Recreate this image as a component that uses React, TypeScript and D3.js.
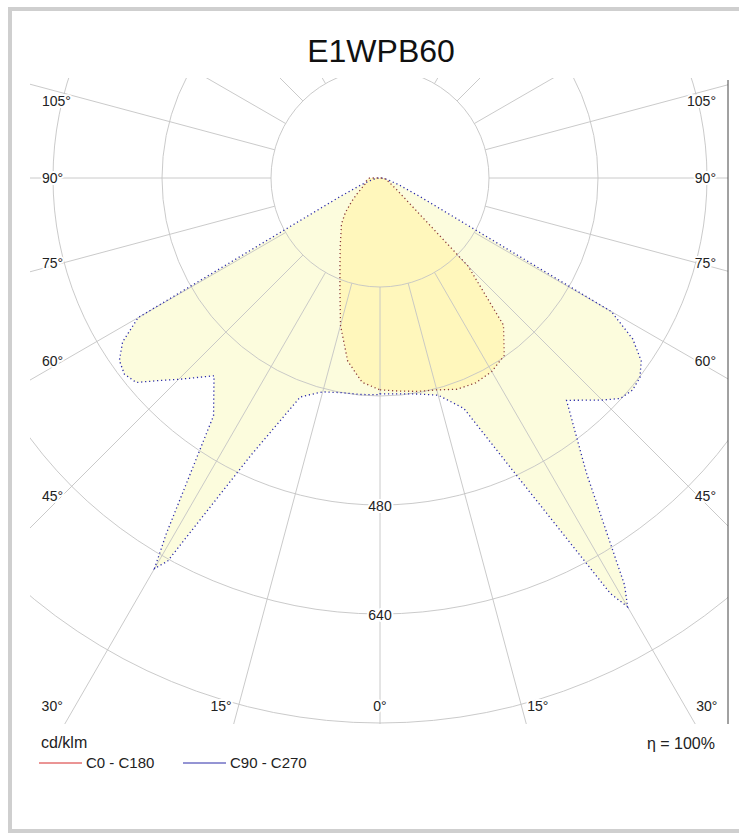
import React, { useEffect, useRef } from 'react';
import * as d3 from 'd3';

const TITLE = 'E1WPB60';
// polar angles from nadir (degrees)
const GAMMA_A = [0, 5, 10, 15, 20, 25, 30, 35, 40, 45, 50, 55, 60, 65, 70, 75, 80, 85, 90];
const GAMMA_B = [0, 5, 10, 15, 20, 25, 29, 30, 31, 35, 40, 45, 47.5, 50, 52.5, 55, 57.5, 60, 65, 70, 75, 80, 85, 90];
// C0 - C180 plane (right = C0, left = C180), cd/klm, at GAMMA_A
const C0 = [311, 314, 318, 322, 330, 332, 328, 318, 282, 183, 51, 30, 20, 15, 12, 10, 8, 6, 5];
const C180 = [311, 301, 273, 224, 172, 139, 117, 100, 88, 72, 55, 42, 32, 26, 22, 21, 20, 18, 15];
// C90 - C270 plane (right = C90, left = C270), cd/klm, at GAMMA_B
const C90 = [317, 318, 322, 330, 360, 492, 697, 727, 697, 528, 426, 461, 479, 484, 481, 468, 440, 392, 65, 30, 15, 8, 4, 0];
const C270 = [318, 319, 320, 325, 342, 450, 643, 662, 609, 426, 379, 418, 440, 467, 473, 467, 448, 410, 65, 30, 15, 8, 4, 0];

const RINGS = [160, 320, 480, 640, 800, 960];
const RING_LABELS = [480, 640];
const SPOKES = [0, 15, 30, 45, 60, 75, 90, 105, 120, 135, 150, 165, 180];
const SIDE_LABELS = [45, 60, 75, 90, 105];
const BOTTOM_LABELS = [0, 15, 30];
const UNIT = 'cd/klm';
const EFFICIENCY = 'η = 100%';
const LEGEND = ['C0 - C180', 'C90 - C270'];
const LEGEND_COLORS = ['#d62a2a', '#2a2aa8'];

export default function App() {
  const ref = useRef<SVGSVGElement>(null);

  useEffect(() => {
    const svg = d3.select(ref.current);
    svg.selectAll('*').remove();
    const W = 739, H = 835;
    const cx = 380, cy = 178;
    const clip = { x: 30, y: 78, w: 698, h: 646 };
    const r = d3.scaleLinear().domain([0, 800]).range([0, 545]);
    const rad = (d: number) => (d * Math.PI) / 180;
    const font = "'Liberation Sans', Arial, Helvetica, sans-serif";

    svg.append('rect').attr('x', 0).attr('y', 0).attr('width', W).attr('height', H).attr('fill', '#fff');
    // card border
    svg.append('rect').attr('x', 10).attr('y', 9).attr('width', 760).attr('height', 822)
      .attr('fill', 'none').attr('stroke', '#cfcfcf').attr('stroke-width', 4);

    const defs = svg.append('defs');
    defs.append('clipPath').attr('id', 'plotclip').append('rect')
      .attr('x', clip.x).attr('y', clip.y).attr('width', clip.w).attr('height', clip.h);

    svg.append('text').attr('x', 381).attr('y', 62).attr('text-anchor', 'middle')
      .attr('font-family', font).attr('font-size', 32).attr('fill', '#111').text(TITLE);

    const plot = svg.append('g').attr('clip-path', 'url(#plotclip)');
    const g = plot.append('g').attr('transform', `translate(${cx},${cy})`);

    const curve = (gammas: number[], right: number[], left: number[]) => {
      const pts: [number, number][] = [];
      gammas.forEach((gm, i) => pts.push([Math.PI - rad(gm), r(right[i])]));
      for (let i = gammas.length - 1; i >= 0; i--) pts.push([Math.PI + rad(gammas[i]), r(left[i])]);
      return d3.lineRadial<[number, number]>().angle(d => d[0]).radius(d => d[1]).curve(d3.curveLinearClosed)(pts) as string;
    };
    const batwing = curve(GAMMA_B, C90, C270);
    const inner = curve(GAMMA_A, C0, C180);

    // fills
    g.append('path').attr('d', batwing).attr('fill', '#fcfcdd');
    g.append('path').attr('d', inner).attr('fill', '#fff7bc');

    // grid
    const grid = g.append('g').attr('fill', 'none').attr('stroke', '#c4c4c4').attr('stroke-width', 0.9);
    RINGS.forEach(v => grid.append('circle').attr('r', r(v)));
    SPOKES.forEach(a => {
      const sides = a === 0 || a === 180 ? [1] : [-1, 1];
      sides.forEach(s => {
        const r0 = r(RINGS[0]), r1 = r(1300);
        grid.append('line')
          .attr('x1', s * Math.sin(rad(a)) * r0).attr('y1', Math.cos(rad(a)) * r0)
          .attr('x2', s * Math.sin(rad(a)) * r1).attr('y2', Math.cos(rad(a)) * r1);
      });
    });

    // outlines
    g.append('path').attr('d', batwing).attr('fill', 'none')
      .attr('stroke', LEGEND_COLORS[1]).attr('stroke-width', 1.3).attr('stroke-dasharray', '1.2 2.8');
    g.append('path').attr('d', inner).attr('fill', 'none')
      .attr('stroke', '#8a3a3a').attr('stroke-width', 1.3).attr('stroke-dasharray', '1.2 2.8');

    // right plot edge
    svg.append('line').attr('x1', clip.x + clip.w).attr('x2', clip.x + clip.w)
      .attr('y1', clip.y + 2).attr('y2', clip.y + clip.h).attr('stroke', '#444').attr('stroke-width', 1);

    const label = (x: number, y: number, t: string, anchor: string, size = 14) =>
      svg.append('text').attr('x', x).attr('y', y).attr('dy', '0.35em').attr('text-anchor', anchor)
        .attr('font-family', font).attr('font-size', size).attr('fill', '#222')
        .attr('stroke', '#fff').attr('stroke-width', 4).attr('paint-order', 'stroke').attr('stroke-linejoin', 'round')
        .text(t);

    // ring labels
    RING_LABELS.forEach(v => label(cx, cy + r(v) + 1, String(v), 'middle'));

    // side angle labels
    SIDE_LABELS.forEach(a => {
      let y = cy + 318 / Math.tan(rad(a));
      if (a === 90) y = cy;
      y = Math.max(y, 101);
      label(42, y, `${a}°`, 'start');
      label(716, y, `${a}°`, 'end');
    });
    // bottom angle labels
    const bottomY = clip.y + clip.h;
    BOTTOM_LABELS.forEach(a => {
      if (a === 0) { label(cx, 706, `${a}°`, 'middle'); return; }
      const dx = (bottomY - cy) * Math.tan(rad(a));
      label(cx - dx - 2, 706, `${a}°`, 'end');
      label(cx + dx + 1, 706, `${a}°`, 'start');
    });

    // unit + efficiency
    svg.append('text').attr('x', 41).attr('y', 748).attr('font-family', font).attr('font-size', 16)
      .attr('fill', '#222').text(UNIT);
    svg.append('text').attr('x', 715).attr('y', 749).attr('text-anchor', 'end').attr('font-family', font)
      .attr('font-size', 16).attr('fill', '#222').attr('xml:space', 'preserve').text(EFFICIENCY);

    // legend
    const lx = [39, 183];
    LEGEND.forEach((name, i) => {
      svg.append('line').attr('x1', lx[i]).attr('x2', lx[i] + 43).attr('y1', 763).attr('y2', 763)
        .attr('stroke', LEGEND_COLORS[i]).attr('stroke-width', 1);
      svg.append('text').attr('x', lx[i] + 47).attr('y', 763).attr('dy', '0.35em').attr('font-family', font)
        .attr('font-size', 15).attr('fill', '#222').text(name);
    });
  }, []);

  return (
    <svg ref={ref} width={739} height={835}
      style={{ position: 'absolute', left: 0, top: 0, display: 'block' }} />
  );
}
